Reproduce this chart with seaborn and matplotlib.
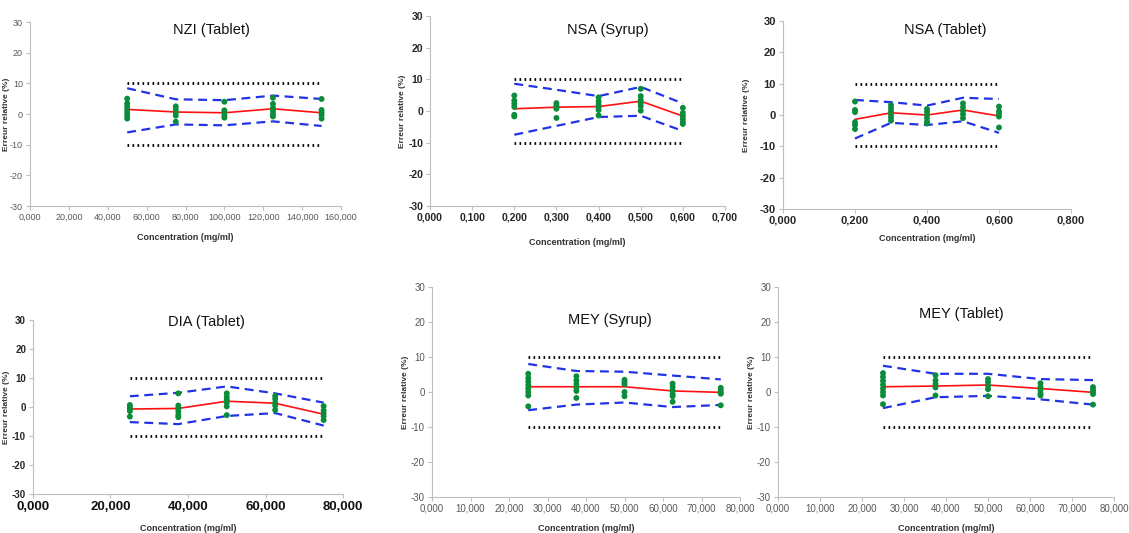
import numpy as np
import pandas as pd
import matplotlib
matplotlib.use("Agg")
import matplotlib.pyplot as plt
import seaborn as sns

# ---- data (relative error, %) ----
nzi_x = [50, 75, 100, 125, 150]
nzi_mean = [1.5, 0.65, 0.4, 1.7, 0.4]
nzi_upper = [8.4, 4.8, 4.5, 6.0, 4.9]
nzi_lower = [-6.0, -3.4, -3.7, -2.4, -3.9]
nzi_points = [[5.0, 3.5, 2.5, 1.5, 0.5, -0.5, -1.5],
              [2.5, 1.5, 0.5, -0.5, -2.5],
              [4.0, 1.2, 0.5, -0.5, -1.2],
              [5.3, 3.3, 2.0, 1.0, 0.0, -0.8],
              [4.9, 1.3, 0.5, -0.3, -1.5]]

nsas_x = [0.2, 0.3, 0.4, 0.5, 0.6]
nsas_mean = [0.7, 1.2, 1.4, 3.1, -1.6]
nsas_upper = [8.6, 6.7, 4.7, 7.6, 2.4]
nsas_lower = [-7.5, -4.7, -1.9, -1.5, -6.3]
nsas_points = [[4.9, 3.3, 2.3, 1.3, -1.2, -1.7],
               [2.5, 1.8, 1.2, 0.7, -2.2],
               [4.3, 3.0, 2.0, 1.2, 0.3, -1.4],
               [7.0, 4.7, 3.5, 2.5, 1.5, 0.1],
               [1.0, -0.6, -1.5, -2.5, -3.5, -4.1]]

nsat_x = [0.2, 0.3, 0.4, 0.5, 0.6]
nsat_mean = [-1.4, 0.7, 0.0, 1.6, -0.3]
nsat_upper = [4.8, 4.1, 3.0, 5.5, 5.1]
nsat_lower = [-7.5, -2.5, -3.2, -2.0, -5.7]
nsat_points = [[4.3, 1.6, 0.9, -2.3, -3.2, -4.5],
               [3.2, 2.2, 1.2, 0.2, -0.8, -1.8],
               [1.9, 1.0, 0.0, -1.0, -2.1, -2.7],
               [3.7, 2.5, 1.3, 0.2, -1.0],
               [2.7, 1.2, 0.3, -0.5, -4.0]]

dia_x = [25, 37.5, 50, 62.5, 75]
dia_mean = [-0.7, -0.5, 2.0, 1.3, -2.5]
dia_upper = [3.7, 4.9, 7.1, 4.7, 1.5]
dia_lower = [-5.2, -5.9, -3.1, -2.1, -6.4]
dia_points = [[0.7, 0.0, -0.7, -1.4, -3.3],
              [4.7, 0.5, -0.5, -1.5, -2.7, -3.5],
              [4.7, 3.5, 2.5, 1.5, 0.2, -2.8],
              [3.8, 2.8, 1.5, 0.5, -1.0],
              [0.3, -1.2, -2.2, -3.2, -4.5]]

meys_x = [25, 37.5, 50, 62.5, 75]
meys_mean = [1.5, 1.5, 1.5, 0.3, -0.1]
meys_upper = [8.0, 6.0, 5.8, 4.7, 3.6]
meys_lower = [-5.2, -3.6, -3.0, -4.3, -3.7]
meys_points = [[5.2, 4.0, 3.0, 2.0, 1.0, 0.0, -1.0, -4.1],
               [4.5, 3.3, 2.3, 1.3, 0.3, -1.7],
               [3.5, 2.8, 2.2, 0.0, -1.2],
               [2.4, 1.4, 0.4, -0.6, -1.2, -2.8],
               [1.2, 0.5, -0.2, -0.5, -3.8]]

meyt_x = [25, 37.5, 50, 62.5, 75]
meyt_mean = [1.5, 1.7, 2.0, 1.0, -0.1]
meyt_upper = [7.5, 5.2, 5.2, 3.7, 3.4]
meyt_lower = [-4.6, -1.5, -1.1, -2.1, -3.6]
meyt_points = [[5.4, 4.3, 3.2, 2.1, 1.0, 0.0, -1.0, -3.5],
               [4.8, 3.3, 2.3, 1.3, -1.0],
               [3.7, 2.8, 1.8, 0.8, -1.2],
               [2.5, 1.5, 0.5, -0.5, -1.0],
               [1.4, 0.6, 0.0, -0.6, -3.6]]

acc_limit = 10
y_ticks = [-30, -20, -10, 0, 10, 20, 30]

nzi_xticks = [0, 20, 40, 60, 80, 100, 120, 140, 160]
nsas_xticks = [0, 0.1, 0.2, 0.3, 0.4, 0.5, 0.6, 0.7]
nsat_xticks = [0, 0.2, 0.4, 0.6, 0.8]
dia_xticks = [0, 20, 40, 60, 80]
mey_xticks = [0, 10, 20, 30, 40, 50, 60, 70, 80]

titles = ["NZI (Tablet)", "NSA (Syrup)", "NSA (Tablet)",
          "DIA (Tablet)", "MEY (Syrup)", "MEY (Tablet)"]

# ---- figure ----
sns.set_style("white")
plt.rcParams["font.family"] = ["Liberation Sans", "DejaVu Sans"]

W, H = 1129, 533
fig = plt.figure(figsize=(W / 100, H / 100), dpi=100)

panels = [
    # x, mean, upper, lower, points, xticks, axes px (l, t, r, b), title pos, ylabel x, xlabel y, tick style
    (nzi_x, nzi_mean, nzi_upper, nzi_lower, nzi_points, nzi_xticks,
     (30, 22, 341, 206), (0.582, 0.957), -0.064, -0.147,
     dict(ycol="#595959", xcol="#595959", yw="normal", xw="normal", ys=6.5, xs=6.5)),
    (nsas_x, nsas_mean, nsas_upper, nsas_lower, nsas_points, nsas_xticks,
     (430, 16, 725, 206), (0.603, 0.926), -0.081, -0.168,
     dict(ycol="#262626", xcol="#262626", yw="bold", xw="bold", ys=7.5, xs=7.5)),
    (nsat_x, nsat_mean, nsat_upper, nsat_lower, nsat_points, nsat_xticks,
     (783, 21, 1071, 209), (0.5625, 0.952), -0.115, -0.133,
     dict(ycol="#262626", xcol="#262626", yw="bold", xw="bold", ys=8, xs=8)),
    (dia_x, dia_mean, dia_upper, dia_lower, dia_points, dia_xticks,
     (33, 320, 343, 494), (0.561, 0.99), -0.074, -0.175,
     dict(ycol="#262626", xcol="#111111", yw="bold", xw="bold", ys=7, xs=9.5)),
    (meys_x, meys_mean, meys_upper, meys_lower, meys_points, mey_xticks,
     (432, 287, 740, 497), (0.578, 0.843), -0.075, -0.128,
     dict(ycol="#595959", xcol="#595959", yw="normal", xw="normal", ys=7, xs=7)),
    (meyt_x, meyt_mean, meyt_upper, meyt_lower, meyt_points, mey_xticks,
     (778, 287, 1114, 497), (0.545, 0.871), -0.068, -0.128,
     dict(ycol="#595959", xcol="#595959", yw="normal", xw="normal", ys=7, xs=7)),
]

for title, (x, mean, upper, lower, points, xticks, rect, tpos, ylx, xly, st) in zip(titles, panels):
    l, t, r, b = rect
    ax = fig.add_axes([l / W, (H - b) / H, (r - l) / W, (b - t) / H])

    lines = pd.DataFrame({"x": x, "mean": mean, "upper": upper, "lower": lower,
                          "hi": [acc_limit] * len(x), "lo": [-acc_limit] * len(x)})
    pts = pd.DataFrame({"x": [xv for xv, vals in zip(x, points) for _ in vals],
                        "err": [v for vals in points for v in vals]})

    sns.lineplot(data=lines, x="x", y="hi", ax=ax, color="black", lw=2.0,
                 linestyle=(0, (0.6, 1.2)))
    sns.lineplot(data=lines, x="x", y="lo", ax=ax, color="black", lw=2.0,
                 linestyle=(0, (0.6, 1.2)))
    sns.lineplot(data=lines, x="x", y="upper", ax=ax, color="#2233E6", lw=1.6,
                 linestyle=(0, (4, 2.5)))
    sns.lineplot(data=lines, x="x", y="lower", ax=ax, color="#2233E6", lw=1.6,
                 linestyle=(0, (4, 2.5)))
    sns.lineplot(data=lines, x="x", y="mean", ax=ax, color="#FF1010", lw=1.2)
    sns.scatterplot(data=pts, x="x", y="err", ax=ax, color="#0B8C3A", s=18,
                    edgecolor="none", zorder=5)

    ax.set_ylim(-30, 30)
    ax.set_xlim(xticks[0], xticks[-1])
    ax.set_yticks(y_ticks)
    ax.set_xticks(xticks)
    ax.set_yticklabels([str(v) for v in y_ticks], color=st["ycol"],
                       fontweight=st["yw"], fontsize=st["ys"])
    ax.set_xticklabels([f"{v:.3f}".replace(".", ",") for v in xticks],
                       color=st["xcol"], fontweight=st["xw"], fontsize=st["xs"])

    for side in ["top", "right"]:
        ax.spines[side].set_visible(False)
    for side in ["left", "bottom"]:
        ax.spines[side].set_color("#BFBFBF")
        ax.spines[side].set_linewidth(0.8)
    ax.tick_params(axis="both", direction="out", length=3, width=0.8,
                   color="#BFBFBF", pad=2, left=True, bottom=True)

    ax.set_xlabel("Concentration (mg/ml)", fontsize=6.5, fontweight="bold",
                  color="#333333")
    ax.xaxis.set_label_coords(0.5, xly)
    ax.set_ylabel("Erreur relative (%)", fontsize=6, fontweight="bold",
                  color="#333333")
    ax.yaxis.set_label_coords(ylx, 0.5)

    ax.text(tpos[0], tpos[1], title, transform=ax.transAxes, ha="center",
            va="center", fontsize=10.5, color="#111111")

fig.savefig("out.png", dpi=100)
